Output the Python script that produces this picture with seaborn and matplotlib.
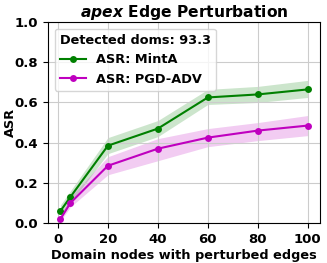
import numpy as np
import pandas as pd
import matplotlib
matplotlib.use("Agg")
import matplotlib.pyplot as plt
import seaborn as sns

nodes = [1, 5, 20, 40, 60, 80, 100]
minta_mean = [0.06, 0.13, 0.385, 0.47, 0.625, 0.64, 0.665]
minta_lo = [0.03, 0.10, 0.345, 0.43, 0.59, 0.60, 0.625]
minta_hi = [0.09, 0.16, 0.425, 0.51, 0.665, 0.68, 0.71]
pgd_mean = [0.02, 0.10, 0.285, 0.37, 0.425, 0.46, 0.485]
pgd_lo = [0.01, 0.08, 0.24, 0.31, 0.38, 0.41, 0.435]
pgd_hi = [0.04, 0.13, 0.33, 0.42, 0.47, 0.50, 0.535]

plt.rcParams.update({"font.weight": "bold", "axes.labelweight": "bold",
                     "axes.titleweight": "bold"})

fig, ax = plt.subplots(figsize=(3.27, 2.63), dpi=100)

df = pd.DataFrame({"nodes": nodes, "MintA": minta_mean, "PGD": pgd_mean})
sns.lineplot(data=df, x="nodes", y="MintA", color="green", marker="o",
             markersize=5, markeredgewidth=0, ax=ax, label="ASR: MintA")
ax.fill_between(nodes, minta_lo, minta_hi, color="green", alpha=0.2, linewidth=0)
sns.lineplot(data=df, x="nodes", y="PGD", color="m", marker="o",
             markersize=5, markeredgewidth=0, ax=ax, label="ASR: PGD-ADV")
ax.fill_between(nodes, pgd_lo, pgd_hi, color="m", alpha=0.2, linewidth=0)

ax.set_ylim(0, 1.0)
ax.set_yticks([0.0, 0.2, 0.4, 0.6, 0.8, 1.0])
ax.set_xticks([0, 20, 40, 60, 80, 100])
ax.tick_params(labelsize=9.5)
ax.grid(True, color="#cccccc")
ax.set_xlabel("Domain nodes with perturbed edges", fontsize=9.3, labelpad=2)
ax.set_ylabel("ASR", fontsize=9.3)
ax.yaxis.set_label_coords(-0.115, 0.5)
ax.set_title(r"$\bf{\it{apex}}$ Edge Perturbation", fontsize=11.2, pad=3)
leg = ax.legend(title="Detected doms: 93.3", loc="upper left",
                prop={"size": 9.3, "weight": "bold"},
                title_fontproperties={"size": 9.3, "weight": "bold"})
leg._legend_box.align = "left"

fig.subplots_adjust(left=0.147, right=0.979, top=0.916, bottom=0.152)
fig.savefig("out.png", dpi=100)
